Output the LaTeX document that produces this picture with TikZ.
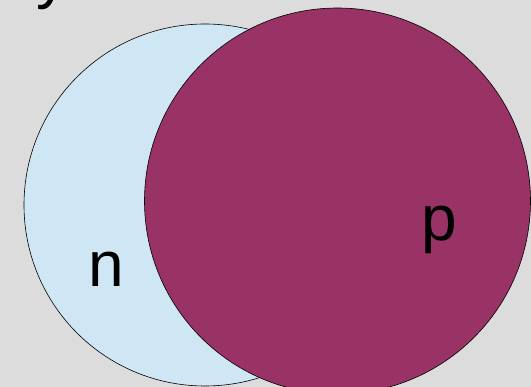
\documentclass[tikz,border=0pt]{standalone}
\usepackage{fontspec}
\setmainfont{Liberation Sans}
\definecolor{bggray}{HTML}{DCDCDC}
\definecolor{lblue}{HTML}{CFE7F5}
\definecolor{mag}{HTML}{993366}
\begin{document}
\begin{tikzpicture}[x=1pt,y=-1pt,
  venn/.style={circle,draw=black,line width=0.6pt,inner sep=0pt},
  lab/.style={font=\fontsize{64}{64}\selectfont,inner sep=0pt,anchor=base west}]
\useasboundingbox (0,0) rectangle (531,387);
\clip (0,0) rectangle (531,387);
\fill[bggray] (0,0) rectangle (531,387);
\node[lab,font=\fontsize{64}{64}\selectfont] (ytxt) at (36,-3) {y};
\node[venn,fill=lblue,minimum size=362pt] (ncirc) at (205,205) {};
\node[venn,fill=mag,minimum size=386pt] (pcirc) at (337.5,201) {};
\node[lab] (nlab) at (88,287) {n};
\node[lab] (plab) at (421,241) {p};
\end{tikzpicture}
\end{document}
